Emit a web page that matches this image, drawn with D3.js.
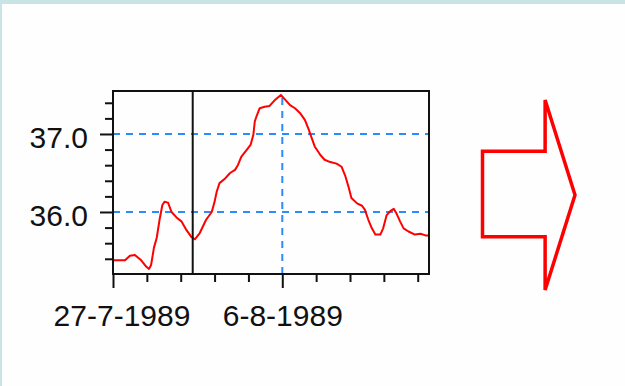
<!DOCTYPE html>
<html>
<head>
<meta charset="utf-8">
<script src="https://cdn.jsdelivr.net/npm/d3@7"></script>
<style>
  html, body { margin: 0; padding: 0; background: #c9e4e4; }
  svg { display: block; }
</style>
</head>
<body>
<svg id="chart" width="625" height="386"></svg>
<script>
// ---- data ----
const startDate = new Date(1989, 6, 27);          // 27-7-1989
const domainDays = 18.7;                          // visible span in days
const dayOffsets = [0.00,0.71,1.01,1.30,1.70,1.99,2.15,2.29,2.43,2.59,2.78,2.94,3.08,3.27,3.47,3.77,4.07,4.36,4.66,4.85,
  5.15,5.54,5.84,6.04,6.14,6.33,6.63,6.92,7.22,7.41,7.62,7.91,8.15,8.30,8.40,8.50,8.70,8.99,9.29,9.59,9.94,
  10.18,10.47,10.77,11.07,11.36,11.56,11.76,11.95,12.25,12.54,12.84,13.24,13.53,13.73,13.92,14.12,14.42,14.72,14.91,
  15.11,15.31,15.50,15.80,15.99,16.20,16.39,16.59,16.79,16.98,17.18,17.47,17.87,18.17,18.46,18.70];
const temperatures = [35.38,35.38,35.44,35.45,35.38,35.30,35.27,35.32,35.54,35.67,35.90,36.09,36.13,36.12,36.00,35.93,35.88,35.77,35.68,35.65,
  35.73,35.90,36.00,36.13,36.26,36.37,36.43,36.50,36.54,36.60,36.71,36.79,36.86,36.99,37.16,37.24,37.33,37.35,37.36,37.44,37.50,
  37.44,37.37,37.33,37.27,37.18,37.07,36.94,36.84,36.73,36.67,36.64,36.62,36.58,36.47,36.32,36.18,36.11,36.08,36.03,
  35.90,35.79,35.71,35.71,35.79,35.96,36.01,36.04,35.98,35.88,35.79,35.75,35.71,35.72,35.70,35.70];
const yMajorTicks = [36.0, 37.0];
const yMinorTicks = [35.4, 35.6, 35.8, 36.2, 36.4, 36.6, 36.8, 37.2, 37.4];
const xMajorTickDays = [0, 10];                   // 27-7-1989, 6-8-1989
const xMinorTickDays = [2, 4, 6, 8, 12, 14, 16, 18];
const cursorDay = 4.73;                           // vertical marker line
const gridDay = 10;                               // vertical dashed gridline (6-8-1989)
const yDomain = [35.205, 37.551];

// ---- layout ----
const svg = d3.select("#chart");
const L = 113, R = 429, T = 91, B = 274;
const addDays = d => d3.timeHour.offset(startDate, Math.round(d * 24 * 60) / 60);
const dates = dayOffsets.map(addDays);
const data = dates.map((d, i) => ({date: d, t: temperatures[i]}));

svg.append("rect").attr("x", 2).attr("y", 4).attr("width", 623).attr("height", 382).attr("fill", "#fefefe");

const x = d3.scaleTime().domain([startDate, addDays(domainDays)]).range([L, R]);
const y = d3.scaleLinear().domain(yDomain).range([B, T]);

const fontFam = "'Liberation Sans', Arial, sans-serif";

// gridlines
const grid = svg.append("g").attr("stroke", "#2a8cff").attr("stroke-width", 2).attr("stroke-dasharray", "7,6");
grid.selectAll("line.h").data(yMajorTicks).join("line")
  .attr("x1", L).attr("x2", R).attr("y1", d => y(d)).attr("y2", d => y(d));
grid.append("line").attr("x1", x(addDays(gridDay))).attr("x2", x(addDays(gridDay)))
  .attr("y1", B).attr("y2", T).attr("stroke-dasharray", "7,6");

// line
const line = d3.line().x(d => x(d.date)).y(d => y(d.t));
svg.append("path").datum(data).attr("d", line)
  .attr("fill", "none").attr("stroke", "#ff0000").attr("stroke-width", 2).attr("stroke-linejoin", "round");

// cursor line
svg.append("line").attr("x1", x(addDays(cursorDay))).attr("x2", x(addDays(cursorDay)))
  .attr("y1", T).attr("y2", B).attr("stroke", "#111").attr("stroke-width", 2);

// frame
svg.append("rect").attr("x", L).attr("y", T).attr("width", R - L).attr("height", B - T)
  .attr("fill", "none").attr("stroke", "#111").attr("stroke-width", 2);

// y axis
const yMinor = svg.append("g").attr("transform", `translate(${L},0)`)
  .call(d3.axisLeft(y).tickValues(yMinorTicks).tickSize(8).tickFormat(""));
const yMajor = svg.append("g").attr("transform", `translate(${L},0)`)
  .call(d3.axisLeft(y).tickValues(yMajorTicks).tickSize(13).tickPadding(12).tickFormat(d3.format(".1f")));
[yMinor, yMajor].forEach(g => {
  g.select(".domain").remove();
  g.selectAll("line").attr("stroke", "#111").attr("stroke-width", 2);
});
yMajor.selectAll("text").attr("font-family", fontFam).attr("font-size", 30).attr("fill", "#111").attr("dy", "0.46em");

// x axis
const xMinor = svg.append("g").attr("transform", `translate(0,${B})`)
  .call(d3.axisBottom(x).tickValues(xMinorTickDays.map(addDays)).tickSize(8).tickFormat(""));
const xMajor = svg.append("g").attr("transform", `translate(0,${B})`)
  .call(d3.axisBottom(x).tickValues(xMajorTickDays.map(addDays)).tickSize(14).tickFormat(d3.timeFormat("%-d-%-m-%Y")));
[xMinor, xMajor].forEach(g => {
  g.select(".domain").remove();
  g.selectAll("line").attr("stroke", "#111").attr("stroke-width", 2);
});
xMajor.selectAll("text").attr("font-family", fontFam).attr("font-size", 30).attr("fill", "#111")
  .attr("y", 52).attr("dy", 0)
  .attr("dx", (d, i) => i === 0 ? 8.5 : 0);

// arrow decoration
const ax = d3.scaleLinear().domain([0, 1]).range([482.5, 575]);
const ay = d3.scaleLinear().domain([0, 1]).range([100, 290]);
const arrowPts = [[0,0.27],[0.677,0.27],[0.677,0],[1,0.5],[0.677,1],[0.677,0.72],[0,0.72]];
svg.append("path")
  .attr("d", d3.line().x(p => ax(p[0])).y(p => ay(p[1])).curve(d3.curveLinearClosed)(arrowPts))
  .attr("fill", "none").attr("stroke", "#ff0000").attr("stroke-width", 3.5).attr("stroke-linejoin", "miter");
</script>
</body>
</html>
